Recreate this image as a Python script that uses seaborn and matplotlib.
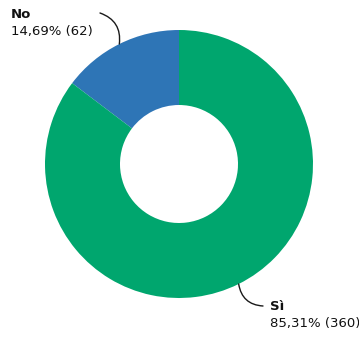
import numpy as np
import matplotlib
matplotlib.use("Agg")
import matplotlib.pyplot as plt
import seaborn as sns

# Survey answers
categories = ["No", "Sì"]
counts = [62, 360]
percent_labels = ["14,69%", "85,31%"]
colors = ["#2E75B6", "#00A66E"]

sns.set_theme(style="white")
plt.rcParams["font.family"] = ["DejaVu Sans"]

W, H = 359, 344
fig = plt.figure(figsize=(W / 100, H / 100), dpi=100)
ax = fig.add_axes([0, 0, 1, 1])

cx, cy, r = 179, H - 164, 134
hole = 59

wedges, _ = ax.pie(
    counts,
    colors=colors,
    startangle=90,
    counterclock=True,
    center=(cx, cy),
    radius=r,
    wedgeprops=dict(width=r - hole, linewidth=0),
)
ax.set_xlim(0, W)
ax.set_ylim(0, H)
ax.set_aspect("auto")
ax.axis("off")

# Label placement (text baseline, leader start) in pixel coordinates
label_pos = {
    "No": dict(text=(11, 18), line=(100, 13), rad=-0.4),
    "Sì": dict(text=(270, 310), line=(263, 306), rad=-0.4),
}

for w, cat, n, pct in zip(wedges, categories, counts, percent_labels):
    mid = np.deg2rad((w.theta1 + w.theta2) / 2)
    edge = (cx + r * np.cos(mid), cy + r * np.sin(mid))
    p = label_pos[cat]
    lx, ly = p["line"]
    ax.annotate(
        "",
        xy=edge,
        xytext=(lx, H - ly),
        arrowprops=dict(arrowstyle="-", color="#1a1a1a", lw=1.0,
                        connectionstyle=f"arc3,rad={p['rad']}",
                        shrinkA=0, shrinkB=0),
    )
    tx, ty = p["text"]
    ax.text(tx, H - ty, cat, fontsize=9.5, fontweight="bold",
            color="#111111", ha="left", va="baseline")
    ax.text(tx, H - ty - 17, f"{pct} ({n})", fontsize=9.5,
            color="#111111", ha="left", va="baseline")

fig.savefig("out.png", dpi=100, facecolor="white")
